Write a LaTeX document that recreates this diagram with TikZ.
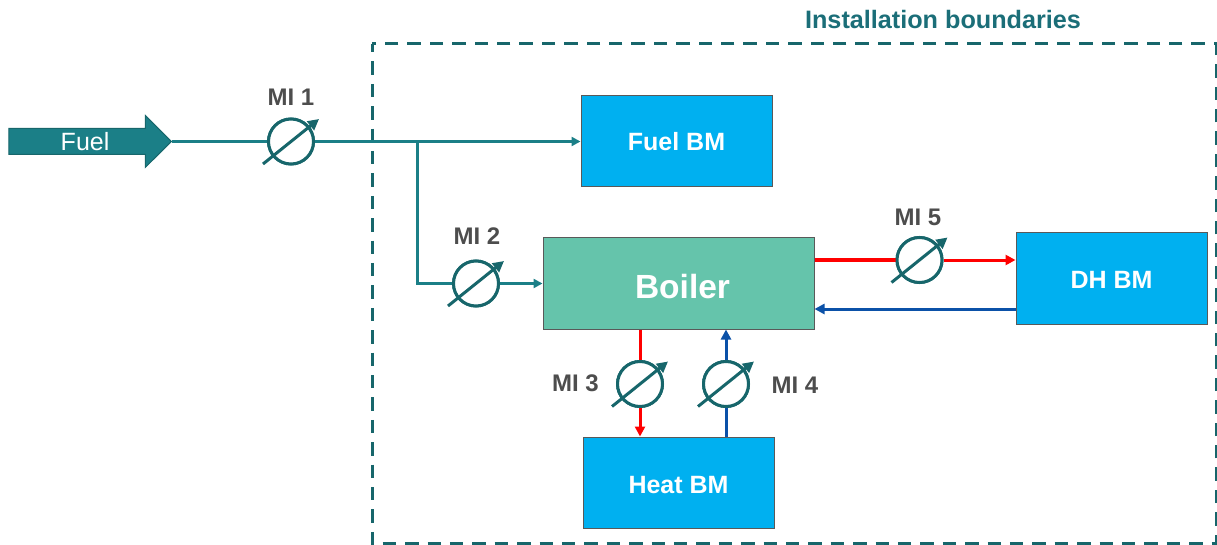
\documentclass[tikz,border=0pt]{standalone}
\usepackage{fontspec}
\setmainfont{Liberation Sans}
\usetikzlibrary{arrows.meta,shapes.arrows,positioning}
\definecolor{tealline}{HTML}{1B7F87}
\definecolor{meter}{HTML}{17666B}
\definecolor{titleteal}{HTML}{1B6E78}
\definecolor{boxblue}{HTML}{00B0F0}
\definecolor{boilergreen}{HTML}{65C4AB}
\definecolor{labelgray}{HTML}{4D4D4D}
\definecolor{flowblue}{HTML}{0B51A8}
\definecolor{flowred}{HTML}{FF0000}
\tikzset{
  bmbox/.style={draw=black!65,line width=1pt,fill=boxblue,text=white,font=\fontsize{25}{28}\selectfont\bfseries,minimum width=191pt,minimum height=91pt,inner sep=0pt},
  meterdial/.style={circle,draw=meter,line width=3pt,fill=white,minimum size=45pt,inner sep=0pt},
  dialarrow/.style={draw=meter,line width=3pt,-{Triangle[length=11pt,width=11pt]}},
  mlabel/.style={text=labelgray,font=\fontsize{24}{28}\selectfont\bfseries,inner sep=0pt},
  tealflow/.style={draw=tealline,line width=3pt},
  tealarrow/.style={tealflow,-{Triangle[length=9pt,width=9pt]}},
  redflow/.style={draw=flowred,line width=3pt},
  redarrow/.style={redflow,-{Triangle[length=10pt,width=10pt]}},
  bluearrow/.style={draw=flowblue,line width=3pt,-{Triangle[length=10pt,width=10pt]}},
  boundary/.style={draw=meter,line width=3pt,dash pattern=on 13.4pt off 9pt,dash phase=5pt},
}
\begin{document}
\begin{tikzpicture}[x=1pt,y=-1pt]
\useasboundingbox (0,0) rectangle (1217,545);
\node[text=titleteal,font=\fontsize{25.2}{28}\selectfont\bfseries,inner sep=0pt] (title) at (943,19.5) {Installation boundaries};
\draw[boundary] (372,44) rectangle (1216,543.5);
\node[bmbox] (fuelbm) at (676.5,141.5) {\raisebox{-9.5pt}[0pt][0pt]{Fuel BM}};
\node[bmbox] (dhbm) at (1111.5,278.5) {\raisebox{-9.5pt}[0pt][0pt]{DH BM}};
\node[bmbox] (heatbm) at (678.5,482.5) {\raisebox{-10.5pt}[0pt][0pt]{Heat BM}};
\node[draw=black!65,line width=1pt,fill=boilergreen,text=white,font=\fontsize{33.5}{38}\selectfont\bfseries,minimum width=271pt,minimum height=91pt,inner sep=0pt] (boiler) at (678.5,283.5) {\raisebox{-15.5pt}[0pt][0pt]{\hspace{8pt}Boiler}};
\node[single arrow,draw=meter,line width=1pt,fill=tealline,text=white,font=\fontsize{25}{28}\selectfont,minimum width=52pt,minimum height=162.5pt,single arrow head extend=13pt,single arrow head indent=0pt,inner xsep=0pt,inner ysep=0pt,text height=17pt,text depth=8pt,anchor=tip] (fuel) at (172,141.5) {\raisebox{-5pt}[0pt][0pt]{\hspace{3pt}Fuel}};
\node[meterdial] (m1) at (291,141.5) {};
\node[meterdial] (m2) at (476,283.5) {};
\node[meterdial] (m3) at (640,384) {};
\node[meterdial] (m4) at (726,384) {};
\node[meterdial] (m5) at (919.5,260) {};
\coordinate (junction) at (417,141.5);
\coordinate (corner) at (417,283.5);
\coordinate (bluestart) at (1016,309);
\draw[tealflow] (fuel.tip) -- (m1);
\draw[tealarrow] (m1) -- (fuelbm.west |- m1);
\draw[tealflow] (junction) -- (corner) -- (m2);
\draw[tealarrow] (m2) -- (boiler.west);
\draw[redflow,line width=4pt] (boiler.east |- m5) -- (m5);
\draw[redarrow] (m5) -- (dhbm.west |- m5);
\draw[bluearrow] (bluestart) -- (boiler.east |- bluestart);
\draw[redflow] (boiler.south -| m3) -- (m3);
\draw[redarrow] (m3) -- (heatbm.north -| m3);
\draw[draw=flowblue,line width=3pt] (heatbm.north -| m4) -- (m4);
\draw[bluearrow] (m4) -- (boiler.south -| m4);
\foreach \m in {m1,m2,m3,m4,m5}{
  \node[meterdial] at (\m) {};
  \draw[dialarrow] ([xshift=-28pt,yshift=-22.5pt]\m.center) -- ([xshift=28pt,yshift=22.5pt]\m.center);
}
\node[mlabel] (l1) at (291,97) {MI 1};
\node[mlabel] (l2) at (477,236) {MI 2};
\node[mlabel] (l3) at (575.5,383) {MI 3};
\node[mlabel] (l4) at (795,385) {MI 4};
\node[mlabel] (l5) at (918,217) {MI 5};
\end{tikzpicture}
\end{document}
